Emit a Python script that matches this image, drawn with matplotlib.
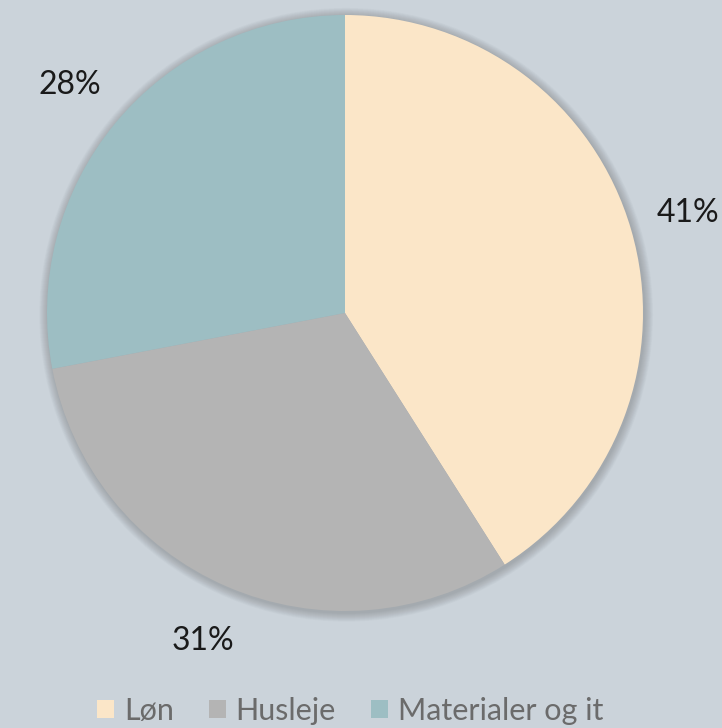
import matplotlib
matplotlib.use("Agg")
import matplotlib.pyplot as plt
from matplotlib.patches import Circle, Patch

categories = ["Løn", "Husleje", "Materialer og it"]
values = [41, 31, 28]
colors = ["#FBE6C8", "#B4B4B4", "#9DBEC3"]
bg = "#CBD3DA"

plt.rcParams['font.family'] = ['Lato', 'DejaVu Sans']

W, H = 722, 728
fig = plt.figure(figsize=(W / 100, H / 100), dpi=100, facecolor=bg)
cx, cy, r = 345, 313, 298
ax = fig.add_axes([(cx - r) / W, (H - cy - r) / H, 2 * r / W, 2 * r / H])
ax.set_facecolor(bg)
ax.axis('off')

# soft shadow
n = 12
for i in range(n):
    rr = 1.0 + 0.03 * (i + 1) / n
    ax.add_patch(Circle((0.004, -0.006), rr, color='black', alpha=0.015, lw=0,
                        zorder=0, clip_on=False))

wedges, texts, autotexts = ax.pie(
    values, colors=colors, startangle=90, counterclock=False, radius=1,
    autopct=lambda p: f"{p:.0f}%", pctdistance=1.2,
    wedgeprops=dict(linewidth=0),
    textprops=dict(fontsize=23, color='#1a1a1a'))
for w in wedges:
    w.set_zorder(2)
ax.set_xlim(-1, 1)
ax.set_ylim(-1, 1)
ax.set_aspect('equal')

handles = [Patch(facecolor=c, edgecolor='none') for c in colors]
leg = fig.legend(handles, categories, loc='lower center', bbox_to_anchor=(0.485, 0.004),
                 ncol=3, frameon=False, fontsize=22, handlelength=0.55, handleheight=0.55,
                 handletextpad=0.32, columnspacing=1.15, borderpad=0, borderaxespad=0)
for t in leg.get_texts():
    t.set_color('#6B6B6B')

fig.savefig("out.png", dpi=100, facecolor=bg)
